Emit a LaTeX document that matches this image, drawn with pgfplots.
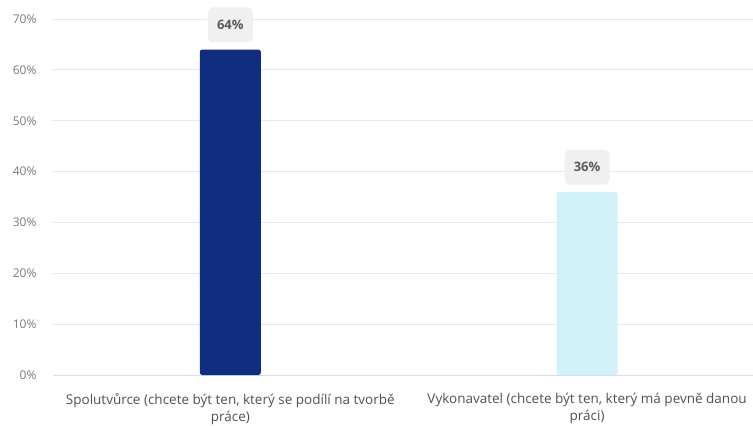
\documentclass[border=0pt]{standalone}
\usepackage{pgfplots}
\pgfplotsset{compat=1.18}
\usepackage{fontspec}
\setmainfont{Open Sans}
\definecolor{darkbar}{HTML}{102D80}
\definecolor{lightbar}{HTML}{D2F1FA}
\definecolor{gridc}{HTML}{E8E8EC}
\definecolor{axisc}{HTML}{D8DCE8}
\definecolor{tickc}{HTML}{7A7A7A}
\definecolor{catc}{HTML}{505050}
\definecolor{boxc}{HTML}{EFF0F1}
\definecolor{boxt}{HTML}{5A5A5A}
\begin{document}
\begin{tikzpicture}
\begin{axis}[
  scale only axis,
  width=700pt, height=356pt,
  ymin=0, ymax=70,
  xmin=-0.497, xmax=1.465,
  axis x line*=bottom,
  axis y line*=left,
  x axis line style={color=axisc, line width=1pt},
  y axis line style={draw=none},
  major tick length=0pt,
  ymajorgrids,
  grid style={color=gridc, line width=0.8pt},
  ytick={0,10,...,70},
  yticklabel={\pgfmathprintnumber{\tick}\%},
  /pgf/number format/assume math mode=true,
  yticklabel style={font=\fontsize{12}{14}\selectfont, color=tickc, xshift=-13pt},
  xtick={0,1},
  xticklabels={{Spolutvůrce (chcete být ten, který se podílí na tvorbě\\práce)},{Vykonavatel (chcete být ten, který má pevně danou\\práci)}},
  xticklabel style={font=\fontsize{13.5}{17}\selectfont, color=catc, align=center, yshift=-15pt},
  nodes near coords={\pgfmathprintnumber{\pgfplotspointmeta}\%},
  every node near coord/.append style={
    fill=boxc, rounded corners=5pt, minimum width=45pt, minimum height=35pt,
    anchor=south, yshift=7pt, text=boxt, font=\fontsize{13}{15}\selectfont\bfseries,
    /pgf/number format/assume math mode=true},
]
\addplot[ybar, bar width=0.171, bar shift=0pt, fill=darkbar, draw=none, rounded corners=2.5pt] coordinates {(0,64)};
\addplot[ybar, bar width=0.171, bar shift=0pt, fill=lightbar, draw=none, rounded corners=2.5pt] coordinates {(1,36)};
\end{axis}
\pgfresetboundingbox
\useasboundingbox (-53pt,-51pt) rectangle (700pt,375pt);
\end{tikzpicture}
\end{document}
